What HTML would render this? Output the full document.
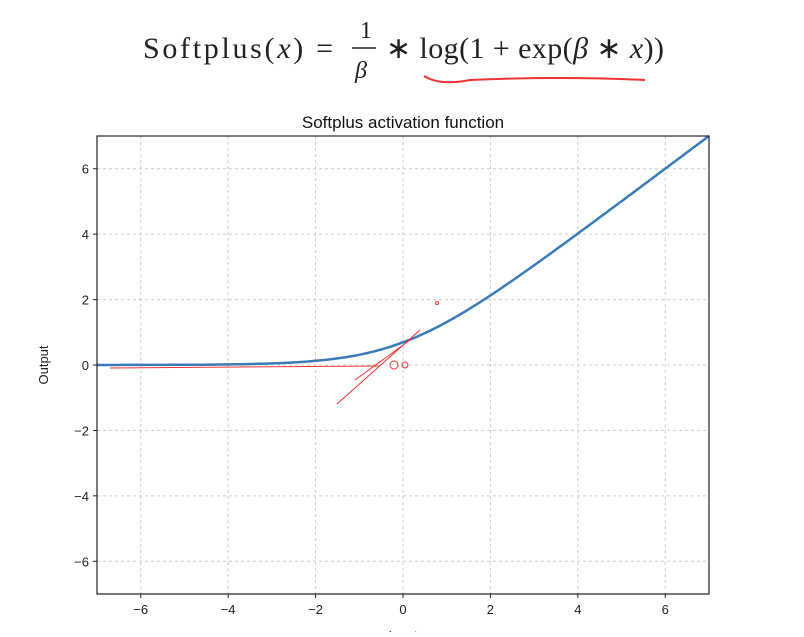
<!DOCTYPE html>
<html><head><meta charset="utf-8"><style>
body{margin:0;width:804px;height:632px;background:#fff;overflow:hidden;font-family:"Liberation Sans",sans-serif}
</style></head><body>
<svg width="804" height="632" xmlns="http://www.w3.org/2000/svg">
<text x="143" y="58" font-family="Liberation Serif,serif" font-size="30" fill="#222" textLength="190">Softplus(<tspan font-style="italic">x</tspan>) =</text>
<text x="360" y="38" font-family="Liberation Serif,serif" font-size="24" fill="#222">1</text>
<line x1="352" y1="48" x2="376" y2="48" stroke="#222" stroke-width="1.5"/>
<text x="355" y="78" font-family="Liberation Serif,serif" font-size="24" font-style="italic" fill="#222">β</text>
<text x="386" y="58" font-family="Liberation Serif,serif" font-size="30" fill="#222" textLength="278">∗ log(1 + exp(<tspan font-style="italic">β</tspan> ∗ <tspan font-style="italic">x</tspan>))</text>
<path d="M424 76 Q440 86 470 80 Q560 76 645 80" stroke="#e33" stroke-width="2" fill="none"/>
<text x="403" y="128" text-anchor="middle" font-size="17" fill="#111">Softplus activation function</text>
<g id="grid"></g><g id="ticks" font-size="13" fill="#222"></g>
<path id="curve" fill="none" stroke="#3a7ab8" stroke-width="2.5"/>
<g stroke="#e33" stroke-width="1" fill="none">
<path d="M110 368 L380 366"/><path d="M337 404 L420 330"/><path d="M355 380 L410 340"/><circle cx="394" cy="365" r="4"/><circle cx="405" cy="365" r="3"/><circle cx="437" cy="303" r="1.5"/>
</g>
<rect x="97" y="136" width="612" height="458" fill="none" stroke="#222" stroke-width="1.2"/>
<text x="48" y="365" transform="rotate(-90 48 365)" text-anchor="middle" font-size="13" fill="#222">Output</text>
<text x="403" y="640" text-anchor="middle" font-size="13" fill="#222">Input</text>
</svg>
<script>
const xTicks=[-6,-4,-2,0,2,4,6];
const yTicks=[-6,-4,-2,0,2,4,6];
const xDomain=[-7,7], yDomain=[-7,7];
const beta=[1];
const L=97,R=709,T=136,B=594;
const sx=v=>L+(v-xDomain[0])/(xDomain[1]-xDomain[0])*(R-L);
const sy=v=>B-(v-yDomain[0])/(yDomain[1]-yDomain[0])*(B-T);
const ns="http://www.w3.org/2000/svg";
const g=document.getElementById('grid'),tk=document.getElementById('ticks');
function mk(t,a,p){const e=document.createElementNS(ns,t);for(const k in a)e.setAttribute(k,a[k]);p.appendChild(e);return e;}
xTicks.forEach(v=>{
const l=mk('line',{x1:sx(v),x2:sx(v),y1:T,y2:B,stroke:'#ccc','stroke-dasharray':'3,3'},g);


mk('line',{x1:sx(v),x2:sx(v),y1:B,y2:B+4,stroke:'#222'},tk);
const t=mk('text',{x:sx(v),y:B+20,'text-anchor':'middle'},tk);t.textContent=v<0?'\u2212'+(-v):v;


});
yTicks.forEach(v=>{
const l=mk('line',{x1:L,x2:R,y1:sy(v),y2:sy(v),stroke:'#ccc','stroke-dasharray':'3,3'},g);


mk('line',{x1:L-4,x2:L,y1:sy(v),y2:sy(v),stroke:'#222'},tk);
const t=mk('text',{x:L-8,y:sy(v)+5,'text-anchor':'end'},tk);t.textContent=v<0?'\u2212'+(-v):v;


});
let d='';const b=beta[0];
for(let i=0;i<=280;i++){const x=xDomain[0]+i*(xDomain[1]-xDomain[0])/280;const y=Math.log(1+Math.exp(b*x))/b;d+=(i?'L':'M')+sx(x).toFixed(1)+' '+sy(y).toFixed(1);}
document.getElementById('curve').setAttribute('d',d);
</script>
</body></html>
